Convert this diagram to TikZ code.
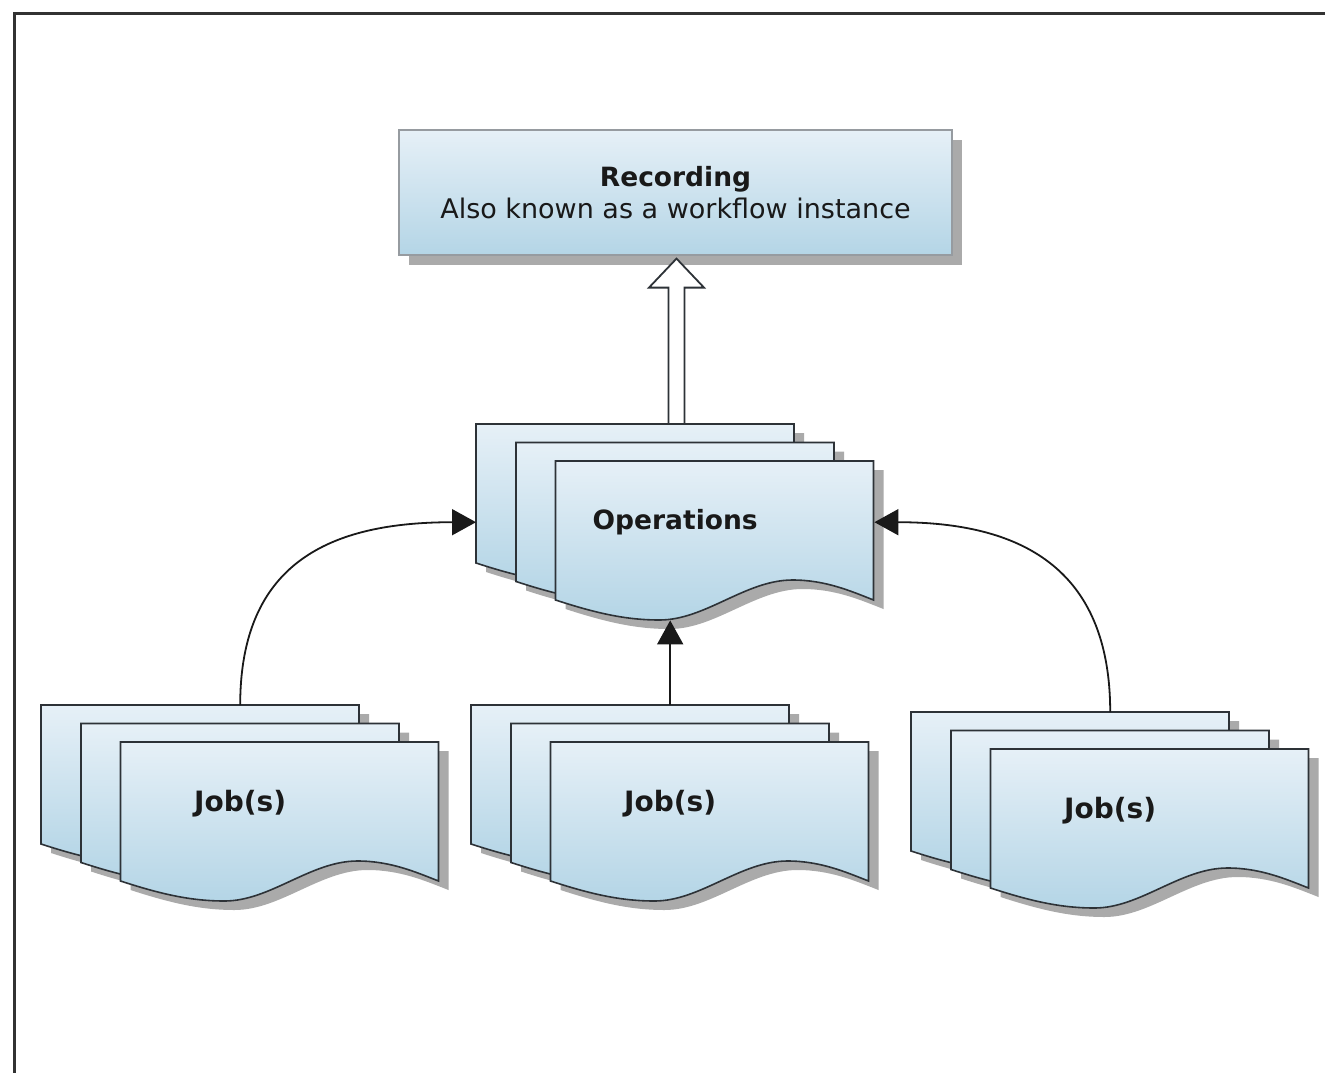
\documentclass[tikz,border=0pt]{standalone}
\usepackage{fontspec}
\setmainfont{DejaVu Sans}
\usetikzlibrary{arrows.meta,calc}
\definecolor{boxtop}{RGB}{230,240,247}
\definecolor{boxbot}{RGB}{180,213,230}
\definecolor{shadowgray}{RGB}{170,170,170}
\definecolor{edge}{RGB}{45,50,55}
\definecolor{recedge}{RGB}{150,155,160}
\definecolor{framecol}{RGB}{50,50,50}
\tikzset{
  sheet/.pic={
    \begin{scope}[shift={(10,-9)}]
      \fill[shadowgray] (0,0) -- (318,0) -- (318,-139)
        .. controls (295,-130) and (270,-119) .. (237,-119)
        .. controls (190,-119) and (150,-159) .. (104,-159)
        .. controls (70,-159) and (40,-152) .. (0,-139) -- cycle;
    \end{scope}
    \draw[edge, line width=1.6pt, top color=boxtop, bottom color=boxbot]
      (0,0) -- (318,0) -- (318,-139)
        .. controls (295,-130) and (270,-119) .. (237,-119)
        .. controls (190,-119) and (150,-159) .. (104,-159)
        .. controls (70,-159) and (40,-152) .. (0,-139) -- cycle;
  },
  stack/.pic={
    \pic at (0,0) {sheet};
    \pic at (40,-18.5) {sheet};
    \pic at (79.5,-37) {sheet};
  },
  stacklabel/.style={minimum width=398pt, minimum height=196pt, inner sep=0pt,
    anchor=north west, font=\fontsize{26.5}{30}\selectfont\bfseries, text=black!90},
  joblabel/.style={stacklabel, font=\fontsize{28}{32}\selectfont\bfseries},
  conn/.style={line width=1.8pt, black!90, -{Triangle[length=24pt,width=26pt]}},
  hollow/.style={line width=1.8pt, edge, fill=white, line join=miter},
}
\begin{document}
\begin{tikzpicture}[x=1pt,y=1pt]
\useasboundingbox (0,0) rectangle (1325,-1073);
\fill[white] (0,0) rectangle (1325,-1073);
% frame
\draw[framecol, line width=2.6pt] (1330,-13.5) -- (14.5,-13.5) -- (14.5,-1080);

% Recording box
\fill[shadowgray] (409,-140) rectangle (962,-265);
\node[draw=recedge, line width=1.2pt, top color=boxtop, bottom color=boxbot,
      minimum width=553pt, minimum height=125pt, inner sep=0pt, align=center,
      font=\fontsize{27}{32}\selectfont, text=black!90]
  (rec) at (675.5,-192.5) {{\fontsize{26.5}{32}\selectfont\textbf{Recording}}\\Also known as a workflow instance};

% stacks
\pic at (476,-424) {stack};
\pic at (41,-705) {stack};
\pic at (471,-705) {stack};
\pic at (911,-712) {stack};

\node[stacklabel] (ops) at (476,-424) {Operations};
\node[joblabel] (job1) at (41,-705) {Job(s)};
\node[joblabel] (job2) at (471,-705) {Job(s)};
\node[joblabel] (job3) at (911,-712) {Job(s)};

% hollow arrow
\coordinate (htip) at ($(rec.south)+(1,-3)$);
\coordinate (hbase) at (htip |- ops.north);
\draw[hollow] ($(hbase)+(-8,0)$) -- ($(htip)+(-8,-29)$) -- ($(htip)+(-27.5,-29)$)
  -- (htip) -- ($(htip)+(27.5,-29)$) -- ($(htip)+(8,-29)$) -- ($(hbase)+(8,0)$) -- cycle;

% connectors
\draw[conn] (job1.north) .. controls +(0,143) and +(-145,0) .. (ops.west);
\draw[conn] (job3.north) .. controls +(0,145) and +(145,0) .. (ops.east);
\draw[conn] (job2.north) -- (job2.north |- ops.south);
\end{tikzpicture}
\end{document}
